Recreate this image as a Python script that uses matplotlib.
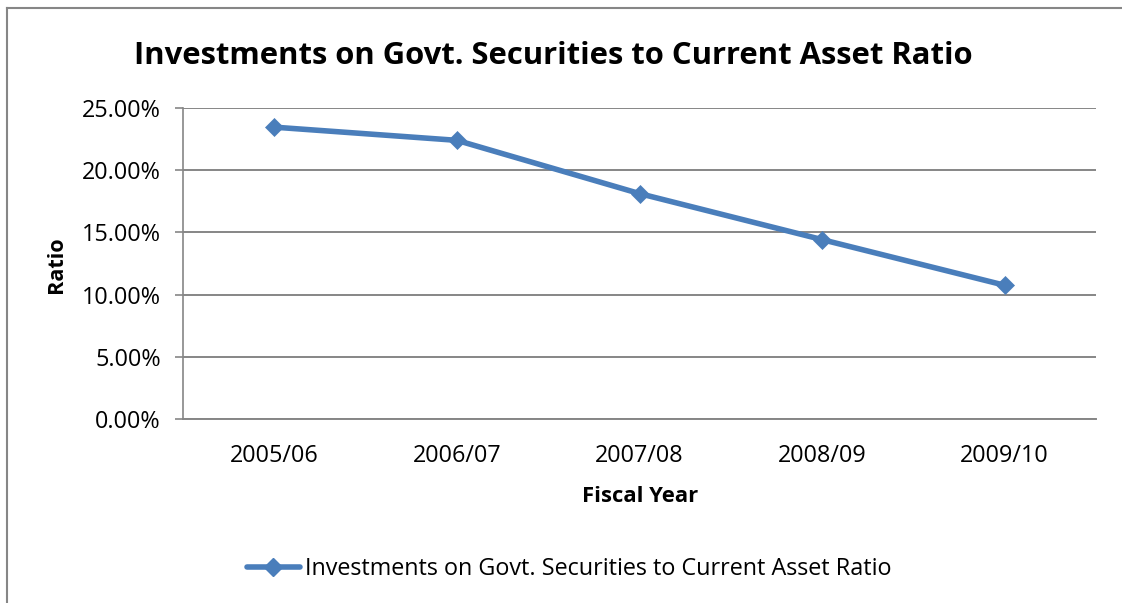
import matplotlib
matplotlib.use("Agg")
import matplotlib.pyplot as plt
from matplotlib.ticker import FuncFormatter
from matplotlib.lines import Line2D

years = ["2005/06", "2006/07", "2007/08", "2008/09", "2009/10"]
ratio = [23.46, 22.40, 18.12, 14.42, 10.75]
yticks = [0, 5, 10, 15, 20, 25]
title = "Investments on Govt. Securities to Current Asset Ratio"
series_name = "Investments on Govt. Securities to Current Asset Ratio"

plt.rcParams['font.family'] = ['Open Sans', 'DejaVu Sans']
W, H = 1122, 603
fig = plt.figure(figsize=(W / 100, H / 100), dpi=100)
ax = fig.add_axes([183 / W, 1 - 419 / H, (1096 - 183) / W, (419 - 108) / H])

color = "#4A7EBB"
x = list(range(len(years)))
ax.plot(x, ratio, color=color, lw=4.0, marker="D", ms=9.5, mec=color, mew=0.5,
        solid_capstyle="round", zorder=3)

ax.set_xlim(-0.5, len(years) - 0.5)
ax.set_ylim(0, 25)
ax.set_yticks(yticks)
ax.yaxis.set_major_formatter(FuncFormatter(lambda v, p: f"{v:.2f}%"))
ax.set_xticks(x)
ax.set_xticklabels(years)
ax.grid(axis="y", color="#868686", lw=1.4)
ax.set_axisbelow(True)
for s in ["top", "right"]:
    ax.spines[s].set_visible(False)
ax.spines["left"].set_color("#868686")
ax.spines["bottom"].set_color("#868686")
ax.spines["left"].set_linewidth(1.2)
ax.spines["bottom"].set_linewidth(1.4)
ax.tick_params(axis="y", length=6, width=1.2, color="#868686", labelsize=16.8, pad=10)
ax.tick_params(axis="x", length=0, labelsize=16.8, pad=18)

fig.text(553 / W, 1 - 56 / H, title, ha="center", va="center", fontsize=22.3, fontweight="bold")
fig.text(640 / W, 1 - 497 / H, "Fiscal Year", ha="center", va="center", fontsize=15.8, fontweight="bold")
fig.text(57 / W, 1 - 265 / H, "Ratio", ha="center", va="center", fontsize=15.6, fontweight="bold", rotation=90)

# legend
handle = Line2D([0], [0], color=color, lw=4.0, marker="D", ms=9.5, mec=color, solid_capstyle="round")
fig.legend([handle], [series_name], loc="center", bbox_to_anchor=(569 / W, 1 - 569 / H),
           frameon=False, fontsize=16.8, handlelength=2.3, handletextpad=0.2)

# outer chart frame
fig.add_artist(Line2D([7 / W, 7 / W], [0, 1 - 8 / H], color="#868686", lw=1.5, transform=fig.transFigure))
fig.add_artist(Line2D([7 / W, 1], [1 - 8 / H, 1 - 8 / H], color="#868686", lw=1.5, transform=fig.transFigure))

fig.savefig("out.png", dpi=100)
